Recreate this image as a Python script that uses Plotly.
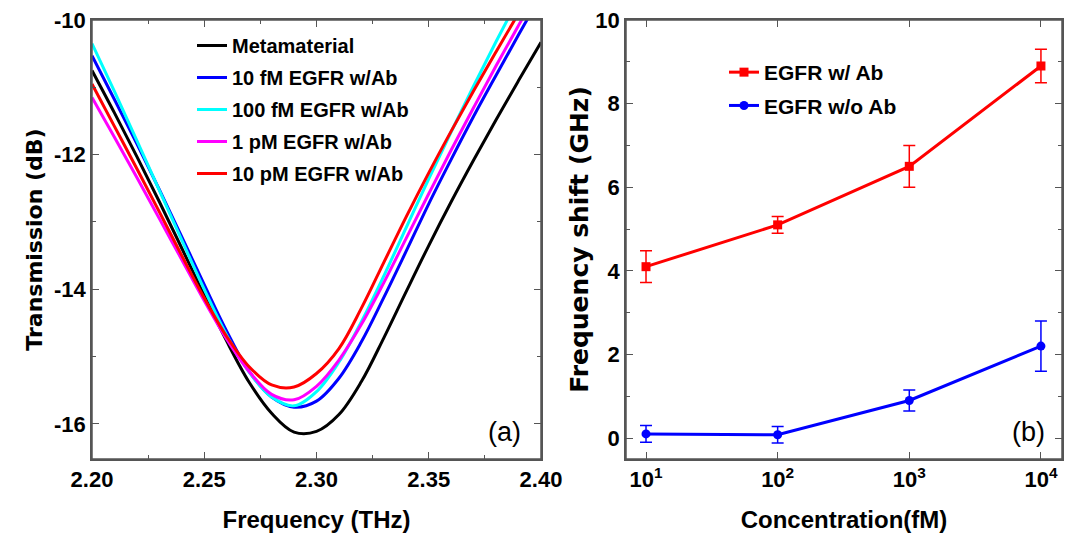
import plotly.graph_objects as go

# ---------------- data: panel (a) ----------------
freq = [2.20, 2.21, 2.22, 2.23, 2.24, 2.25, 2.26, 2.27, 2.28, 2.29, 2.30,
        2.31, 2.32, 2.33, 2.34, 2.35, 2.36, 2.37, 2.38, 2.39, 2.40]

meta_T = [-10.75, -11.38, -12.03, -12.70, -13.39, -14.09, -14.77, -15.38, -15.84, -16.12, -16.11,
          -15.86, -15.37, -14.72, -14.03, -13.35, -12.70, -12.08, -11.48, -10.90, -10.33]
fm10_T = [-10.53, -11.18, -11.84, -12.52, -13.22, -13.93, -14.62, -15.22, -15.60, -15.75, -15.66,
          -15.32, -14.78, -14.12, -13.43, -12.73, -12.07, -11.43, -10.82, -10.22, -9.63]
fm100_T = [-10.35, -11.06, -11.79, -12.53, -13.27, -14.00, -14.68, -15.23, -15.60, -15.73, -15.52,
           -15.08, -14.48, -13.80, -13.08, -12.36, -11.66, -10.98, -10.32, -9.68, -9.06]
pm1_T = [-11.15, -11.74, -12.34, -12.95, -13.56, -14.17, -14.74, -15.22, -15.56, -15.64, -15.44,
         -15.05, -14.52, -13.90, -13.24, -12.58, -11.93, -11.30, -10.68, -10.08, -9.49]
pm10_T = [-10.95, -11.58, -12.21, -12.85, -13.50, -14.13, -14.70, -15.15, -15.42, -15.45, -15.25,
          -14.88, -14.28, -13.60, -12.92, -12.27, -11.65, -11.05, -10.47, -9.90, -9.34]

curve_names = ["Metamaterial", "10 fM EGFR w/Ab", "100 fM EGFR w/Ab", "1 pM EGFR w/Ab", "10 pM EGFR w/Ab"]
curve_colors = ["#000000", "#0000ff", "#00ffff", "#ff00ff", "#ff0000"]

# ---------------- data: panel (b) ----------------
conc = [10, 100, 1000, 10000]
with_ab = [4.1, 5.1, 6.5, 8.9]
with_ab_err = [0.38, 0.2, 0.5, 0.4]
without_ab = [0.10, 0.08, 0.9, 2.2]
without_ab_err = [0.2, 0.2, 0.25, 0.6]

xa_ticks = [2.20, 2.25, 2.30, 2.35, 2.40]
ya_ticks = [-16, -14, -12, -10]
ya_text = ["-16", "-14", "-12", "-10"]
xb_ticks = [10, 100, 1000, 10000]
xb_text = ["10<sup>1</sup>", "10<sup>2</sup>", "10<sup>3</sup>", "10<sup>4</sup>"]
yb_ticks = [0, 2, 4, 6, 8, 10]

# ---------------- figure ----------------
# the page body adds an 8 px margin, so the figure is 8 px smaller and coordinates shifted
OFF = 8
W, H = 1078 - OFF, 544 - OFF
TOP = 20 - OFF          # top margin so the frame top sits at page y = 20
PH = H - TOP            # height of the plotting region


def px(x):
    return (x - OFF) / W


def py(y):
    return 1 - (y - OFF - TOP) / PH


BOLD = "Liberation Sans, Arial, sans-serif"
WIDE = "DejaVu Sans, Verdana, sans-serif"
FRAME = "#555555"

fig = go.Figure()
series_a = [meta_T, fm10_T, fm100_T, pm1_T, pm10_T]
for i, (T, name, col) in enumerate(zip(series_a, curve_names, curve_colors)):
    fig.add_trace(go.Scatter(x=freq, y=T, mode="lines", name=name, legendgroup="a%d" % i,
                             line=dict(color=col, width=3, shape="spline", smoothing=1.0),
                             xaxis="x", yaxis="y", legend="legend"))

fig.add_trace(go.Scatter(x=conc, y=with_ab, mode="lines+markers", name="EGFR w/ Ab", legendgroup="b0",
                         line=dict(color="#ff0000", width=3),
                         marker=dict(symbol="square", size=9, color="#ff0000"),
                         error_y=dict(type="data", array=with_ab_err, color="#ff0000", thickness=1.5, width=6),
                         xaxis="x2", yaxis="y2", legend="legend2"))
fig.add_trace(go.Scatter(x=conc, y=without_ab, mode="lines+markers", name="EGFR w/o Ab", legendgroup="b1",
                         line=dict(color="#0000ff", width=3),
                         marker=dict(symbol="circle", size=9, color="#0000ff"),
                         error_y=dict(type="data", array=without_ab_err, color="#0000ff", thickness=1.5, width=6),
                         xaxis="x2", yaxis="y2", legend="legend2"))

axis_common = dict(showline=True, linecolor=FRAME, linewidth=1.5, mirror="allticks",
                   ticks="inside", ticklen=7, tickwidth=1.3, tickcolor=FRAME,
                   showgrid=False, zeroline=False, automargin=False, ticklabeloverflow="allow",
                   tickfont=dict(family=BOLD, size=22, color="black", weight="bold"))

y_top = py(20)
y_bot = py(459)

fig.update_layout(
    width=W, height=H,
    margin=dict(l=0, r=0, t=TOP, b=0, pad=0),
    paper_bgcolor="white", plot_bgcolor="white",
    xaxis=dict(domain=[px(92), px(541)], range=[2.20, 2.40], tickvals=xa_ticks,
               ticktext=["%.2f" % v for v in xa_ticks],
               minor=dict(ticks="inside", ticklen=4, dtick=0.025, tick0=2.2, tickcolor=FRAME),
               title=dict(text="Frequency (THz)", font=dict(family=BOLD, size=24, color="black", weight="bold"), standoff=20),
               anchor="y", **axis_common),
    yaxis=dict(domain=[y_bot, y_top], range=[-16.52, -10], tickvals=ya_ticks, ticktext=ya_text,
               minor=dict(ticks="inside", ticklen=4, dtick=1, tick0=-10, tickcolor=FRAME),
               title=dict(text="Transmission (dB)", font=dict(family=WIDE, size=22, color="black", weight="bold"), standoff=5),
               anchor="x", **axis_common),
    xaxis2=dict(domain=[px(626), px(1062)], type="log", range=[0.848, 4.16], tickvals=xb_ticks, ticktext=xb_text,
                title=dict(text="Concentration(fM)", font=dict(family=BOLD, size=24, color="black", weight="bold"), standoff=20),
                anchor="y2", **axis_common),
    yaxis2=dict(domain=[y_bot, y_top], range=[-0.5, 10], tickvals=yb_ticks,
                minor=dict(ticks="inside", ticklen=4, dtick=1, tick0=0, tickcolor=FRAME),
                title=dict(text="Frequency shift (GHz)", font=dict(family=WIDE, size=25, color="black", weight="bold"), standoff=0),
                anchor="x2", **axis_common),
    legend=dict(x=px(192), y=py(26), xanchor="left", yanchor="top", bgcolor="rgba(0,0,0,0)",
                font=dict(family=BOLD, size=20, color="black", weight="bold"),
                traceorder="grouped", tracegroupgap=3),
    legend2=dict(x=px(724), y=py(52), xanchor="left", yanchor="top", bgcolor="rgba(0,0,0,0)",
                 font=dict(family=BOLD, size=21, color="black", weight="bold"),
                 traceorder="grouped", tracegroupgap=3),
    shapes=[
        dict(type="rect", xref="paper", yref="paper", x0=px(92), x1=px(541), y0=y_bot, y1=y_top,
             line=dict(color=FRAME, width=1.5), layer="above"),
        dict(type="rect", xref="paper", yref="paper", x0=px(626), x1=px(1062), y0=y_bot, y1=y_top,
             line=dict(color=FRAME, width=1.5), layer="above"),
    ],
    annotations=[
        dict(text="(a)", x=px(504), y=py(432), xref="paper", yref="paper", showarrow=False,
             xanchor="center", yanchor="middle",
             font=dict(family="Liberation Sans, Arial, sans-serif", size=27, color="black")),
        dict(text="(b)", x=px(1028), y=py(432), xref="paper", yref="paper", showarrow=False,
             xanchor="center", yanchor="middle",
             font=dict(family="Liberation Sans, Arial, sans-serif", size=27, color="black")),
    ],
)

fig.write_html("out.html")
